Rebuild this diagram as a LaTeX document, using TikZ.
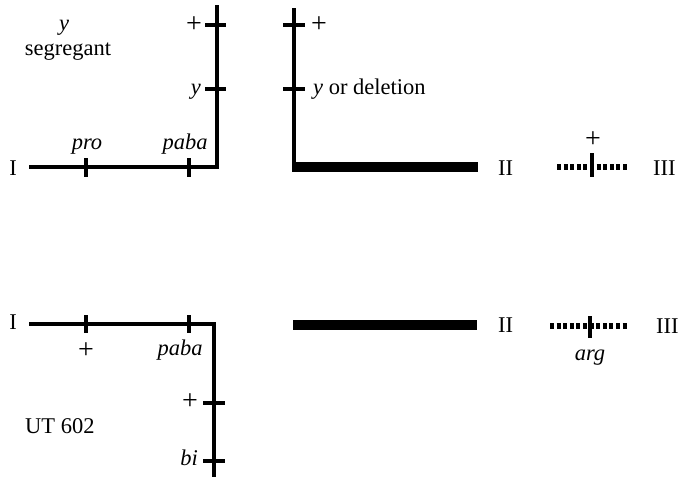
\documentclass[tikz,border=0pt]{standalone}
\usepackage{fontspec}
\setmainfont{Liberation Serif}
\newcommand{\plussign}{{\fontsize{28}{30}\selectfont +}}
\begin{document}
\begin{tikzpicture}[x=1pt, y=-1pt, font=\fontsize{22.5}{26}\selectfont,
		chrom/.style={line width=3.5pt},
		thickchrom/.style={line width=9.5pt},
		dotchrom/.style={line width=6pt, dash pattern=on 4pt off 2.6pt},
		locus/.style={line width=3.2pt},
		lab/.style={inner sep=0pt}]
		\useasboundingbox (0,0) rectangle (678,477);
		% upper row: y segregant
		\node[lab, anchor=base] (ytop) at (64,30) {\itshape y};
		\node[lab, anchor=base] (seg) at (68,55) {segregant};
		\node[lab, anchor=base] (I1) at (13,175) {I};
		\coordinate (a1) at (29,167);
		\coordinate (c1) at (217,167);
		\coordinate (t1) at (217,5);
		\draw[chrom] (a1) -- (c1) -- (t1);
		\draw[locus] (86,158) -- (86,177) (189,158) -- (189,177);
		\draw[locus] (205,25) -- (226,25) (205,89) -- (226,89);
		\node[lab, anchor=base] (pro) at (87,149) {\itshape pro};
		\node[lab, anchor=base] (paba1) at (185,149) {\itshape paba};
		\node[lab, anchor=east] (p1) at (202,25) {\plussign};
		\node[lab, anchor=base east] (y1) at (201,94) {\itshape y};
		% upper row: II and III
		\coordinate (t2) at (294,8);
		\coordinate (c2) at (294,167);
		\coordinate (e2) at (478,167);
		\draw[chrom] (t2) -- (c2);
		\draw[thickchrom] (292,167) -- (e2);
		\draw[locus] (283,25) -- (305,25) (283,89) -- (305,89);
		\node[lab, anchor=west] (p2) at (311,25) {\plussign};
		\node[lab, anchor=base west] (ydel) at (313,94) {\itshape y\upshape\ or deletion};
		\node[lab, anchor=base west] (II1) at (498,175) {II};
		\draw[dotchrom] (557,167) -- (628,167);
		\draw[locus] (592,153) -- (592,177);
		\node[lab] (p3) at (593,140) {\plussign};
		\node[lab, anchor=base west] (III1) at (653,175) {III};
		% lower row: UT 602
		\node[lab, anchor=base] (I2) at (13,329) {I};
		\coordinate (a3) at (29,324);
		\coordinate (c3) at (214,324);
		\coordinate (b3) at (214,480);
		\draw[chrom] (a3) -- (c3) -- (b3);
		\draw[locus] (86,315) -- (86,333) (189,315) -- (189,333);
		\draw[locus] (203,403) -- (225,403) (203,461) -- (225,461);
		\node[lab] (p4) at (86,351) {\plussign};
		\node[lab, anchor=base] (paba2) at (180,355) {\itshape paba};
		\node[lab, anchor=east] (p5) at (198,402) {\plussign};
		\node[lab, anchor=base east] (bi) at (198,465) {\itshape bi};
		\node[lab, anchor=base west] (ut) at (25,433) {UT 602};
		% lower row: II and III
		\draw[thickchrom] (293,325) -- (477,325);
		\node[lab, anchor=base west] (II2) at (498,332) {II};
		\draw[dotchrom] (550,326) -- (628,326);
		\draw[locus] (590,316) -- (590,338);
		\node[lab, anchor=base] (arg) at (590,360) {\itshape arg};
		\node[lab, anchor=base west] (III2) at (656,333) {III};
	\end{tikzpicture}
\end{document}
